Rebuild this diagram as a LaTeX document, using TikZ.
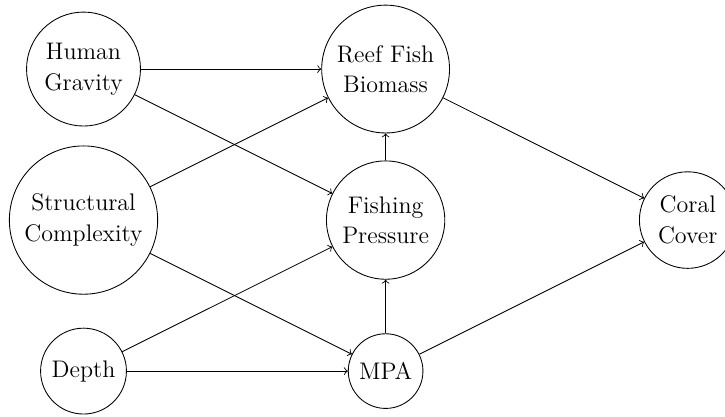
\documentclass[tikz,border=0pt]{standalone}
\usepackage{tikz}
\usetikzlibrary{arrows,shapes,positioning}

\begin{document}
\begin{tikzpicture}[every node/.style={circle, draw, align=center, font=\fontsize{11}{14}\selectfont}]
      \useasboundingbox (-1.346,-3.160) rectangle (10.339,3.547);
      \node[] (sc) at (0,0) {Structural\\Complexity};
      \node[] (hg) at (0,2.434) {Human\\Gravity};
      \node[] (dp) at (0,-2.434) {Depth};
      \node[] (fp) at (4.869,0) {Fishing\\Pressure};
      \node[] (rfb) at (4.869,2.434) {Reef Fish\\Biomass};
      \node[] (mpa) at (4.869,-2.434) {MPA};
      \node[] (cc) at (9.738,0) {Coral\\Cover};

      \draw[->] (hg) edge [] (rfb);
      \draw[->] (hg) edge [] (fp);
      \draw[->] (sc) edge [] (rfb);
      \draw[->] (sc) edge [] (mpa);
      \draw[->] (dp) edge [] (fp);
      \draw[->] (dp) edge [] (mpa);
      \draw[->] (fp) edge [] (rfb);
      \draw[->] (mpa) edge [] (fp);
      \draw[->] (rfb) edge [] (cc);
      \draw[->] (mpa) edge [] (cc);
    \end{tikzpicture}
\end{document}
